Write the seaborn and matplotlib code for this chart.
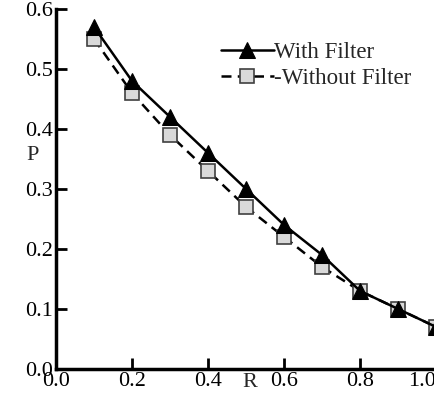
import numpy as np
import pandas as pd
import seaborn as sns
import matplotlib.pyplot as plt
from matplotlib.transforms import ScaledTranslation

# values
r_values = [0.1, 0.2, 0.3, 0.4, 0.5, 0.6, 0.7, 0.8, 0.9, 1.0]
with_filter = [0.57, 0.48, 0.42, 0.36, 0.30, 0.24, 0.19, 0.13, 0.10, 0.07]
without_filter = [0.55, 0.46, 0.39, 0.33, 0.27, 0.22, 0.17, 0.13, 0.10, 0.07]
x_ticks = [0.0, 0.2, 0.4, 0.6, 0.8, 1.0]
y_ticks = [0.0, 0.1, 0.2, 0.3, 0.4, 0.5, 0.6]

df_with = pd.DataFrame({"R": r_values, "P": with_filter})
df_without = pd.DataFrame({"R": r_values, "P": without_filter})

sns.set_style("ticks")
plt.rcParams['font.family'] = ['Liberation Serif', 'DejaVu Serif']

fig = plt.figure(figsize=(4.34, 3.97), dpi=100)
ax = fig.add_axes([0.129, 0.0705, 0.876, 0.907])

sns.lineplot(
    x="R",
    y="P",
    data=df_without,
    ax=ax,
    color="black",
    linestyle=(0, (4, 2.5)),
    linewidth=1.8,
    marker="s",
    markersize=9.5,
    markerfacecolor="#d9d9d9",
    markeredgecolor="#404040",
    markeredgewidth=1.2,
    label="-Without Filter",
    zorder=3,
)
sns.lineplot(
    x="R",
    y="P",
    data=df_with,
    ax=ax,
    color="black",
    linestyle="-",
    linewidth=1.8,
    marker="^",
    markersize=11,
    markerfacecolor="black",
    markeredgecolor="black",
    label="With Filter",
    zorder=4,
)

ax.set_xlim(0, 1.0)
ax.set_ylim(0, 0.6)
ax.set_xticks(x_ticks)
ax.set_yticks(y_ticks)
ax.set_xticklabels([f"{v:.1f}" for v in x_ticks])
ax.set_yticklabels([f"{v:.1f}" for v in y_ticks])
ax.tick_params(direction="in", length=8, width=2, labelsize=16, colors="black", pad=2)

# last x label sits a bit left of its tick, as in the reference
last = ax.get_xticklabels()[-1]
last.set_transform(last.get_transform() + ScaledTranslation(-0.14, 0, fig.dpi_scale_trans))

for side in ["top", "right"]:
    ax.spines[side].set_visible(False)
for side in ["left", "bottom"]:
    ax.spines[side].set_linewidth(2.5)
    ax.spines[side].set_color("black")

ax.set_xlabel("R", fontsize=16)
ax.set_ylabel("P", fontsize=16, rotation=0)
ax.xaxis.set_label_coords(0.51, -0.012, transform=ax.transAxes)
ax.xaxis.label.set_va("top")
ax.yaxis.set_label_coords(-0.062, 0.594, transform=ax.transAxes)
ax.yaxis.label.set_va("center")

handles, labels = ax.get_legend_handles_labels()
ax.legend(
    handles[::-1],
    labels[::-1],
    loc="upper left",
    bbox_to_anchor=(0.38, 0.965),
    frameon=False,
    fontsize=16.5,
    handlelength=2.3,
    handletextpad=0.0,
    labelspacing=0.2,
)

plt.savefig("out.png", dpi=100)
